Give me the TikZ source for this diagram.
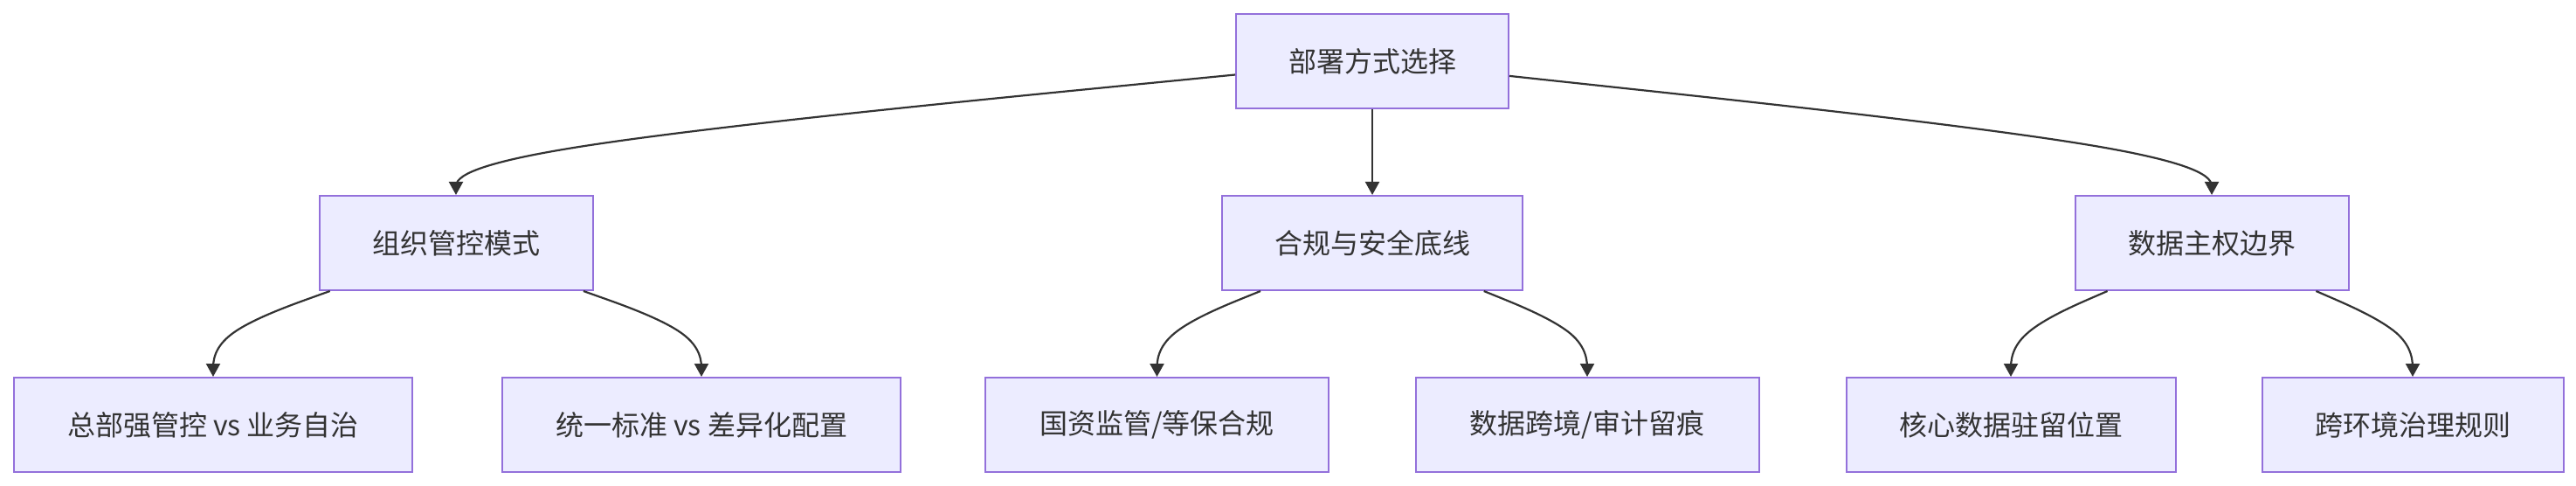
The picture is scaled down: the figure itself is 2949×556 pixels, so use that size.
\documentclass[tikz,border=0pt]{standalone}
\usepackage{fontspec}
\setmainfont{Noto Sans CJK SC}
\usetikzlibrary{arrows.meta,calc}
\definecolor{nodefill}{HTML}{ECECFF}
\definecolor{nodeborder}{HTML}{9370DB}
\definecolor{edgecol}{HTML}{333333}
\definecolor{txtcol}{HTML}{333333}
\newcommand{\basisedge}[3]{%
  \draw[edgeline] (#1) -- ($0.8333*(#1)+0.1667*(#2)$)
    .. controls ($0.6667*(#1)+0.3333*(#2)$) and ($0.3333*(#1)+0.6667*(#2)$)
    .. ($0.1667*(#1)+0.6667*(#2)+0.1667*(#3)$)
    .. controls ($0.6667*(#2)+0.3333*(#3)$) and ($0.3333*(#2)+0.6667*(#3)$)
    .. ($0.1667*(#2)+0.8333*(#3)$) -- (#3);}
\begin{document}
\begin{tikzpicture}[x=1pt,y=-1pt,
  box/.style={draw=nodeborder,fill=nodefill,line width=2pt,rectangle,
    minimum height=108pt,inner sep=0pt,text=txtcol,
    font=\fontsize{32}{38}\selectfont},
  edgeline/.style={draw=edgecol,line width=2.2pt,
    -{Triangle[width=16pt,length=15pt]}}]
\useasboundingbox (0,0) rectangle (2949,556);
% level 0
\node[box,minimum width=312pt] (A) at (1571,70) {部署方式选择};
% level 1
\node[box,minimum width=313pt] (B1) at (522,278) {组织管控模式};
\node[box,minimum width=344pt] (B2) at (1571,278) {合规与安全底线};
\node[box,minimum width=313pt] (B3) at (2532,278) {数据主权边界};
% level 2
\node[box,minimum width=456pt] (C1) at (244,486) {总部强管控 vs 业务自治};
\node[box,minimum width=456pt] (C2) at (803,486) {统一标准 vs 差异化配置};
\node[box,minimum width=393pt] (C3) at (1324.5,486) {国资监管/等保合规};
\node[box,minimum width=393pt] (C4) at (1817,486) {数据跨境/审计留痕};
\node[box,minimum width=377pt] (C5) at (2302,486) {核心数据驻留位置};
\node[box,minimum width=345pt] (C6) at (2762,486) {跨环境治理规则};
% edge start points on parent borders
\coordinate (sA1) at ($(A.west)+(0,15.5)$);
\coordinate (sA3) at ($(A.east)+(0,16.9)$);
\coordinate (sB1a) at ($(B1.south)+(-144.3,0)$);
\coordinate (sB1b) at ($(B1.south)+(145.9,0)$);
\coordinate (sB2a) at ($(B2.south)+(-128,0)$);
\coordinate (sB2b) at ($(B2.south)+(127.7,0)$);
\coordinate (sB3a) at ($(B3.south)+(-119.4,0)$);
\coordinate (sB3b) at ($(B3.south)+(119.4,0)$);
% mid-rank control points
\coordinate (mB1) at ($(B1.north)+(0,-50)$);
\coordinate (mB3) at ($(B3.north)+(0,-50)$);
\coordinate (mC1) at ($(C1.north)+(0,-50)$);
\coordinate (mC2) at ($(C2.north)+(0,-50)$);
\coordinate (mC3) at ($(C3.north)+(0,-50)$);
\coordinate (mC4) at ($(C4.north)+(0,-50)$);
\coordinate (mC5) at ($(C5.north)+(0,-50)$);
\coordinate (mC6) at ($(C6.north)+(0,-50)$);
% edges
\basisedge{sA1}{mB1}{B1.north}
\draw[edgeline] (A.south) -- (B2.north);
\basisedge{sA3}{mB3}{B3.north}
\basisedge{sB1a}{mC1}{C1.north}
\basisedge{sB1b}{mC2}{C2.north}
\basisedge{sB2a}{mC3}{C3.north}
\basisedge{sB2b}{mC4}{C4.north}
\basisedge{sB3a}{mC5}{C5.north}
\basisedge{sB3b}{mC6}{C6.north}
\end{tikzpicture}
\end{document}
